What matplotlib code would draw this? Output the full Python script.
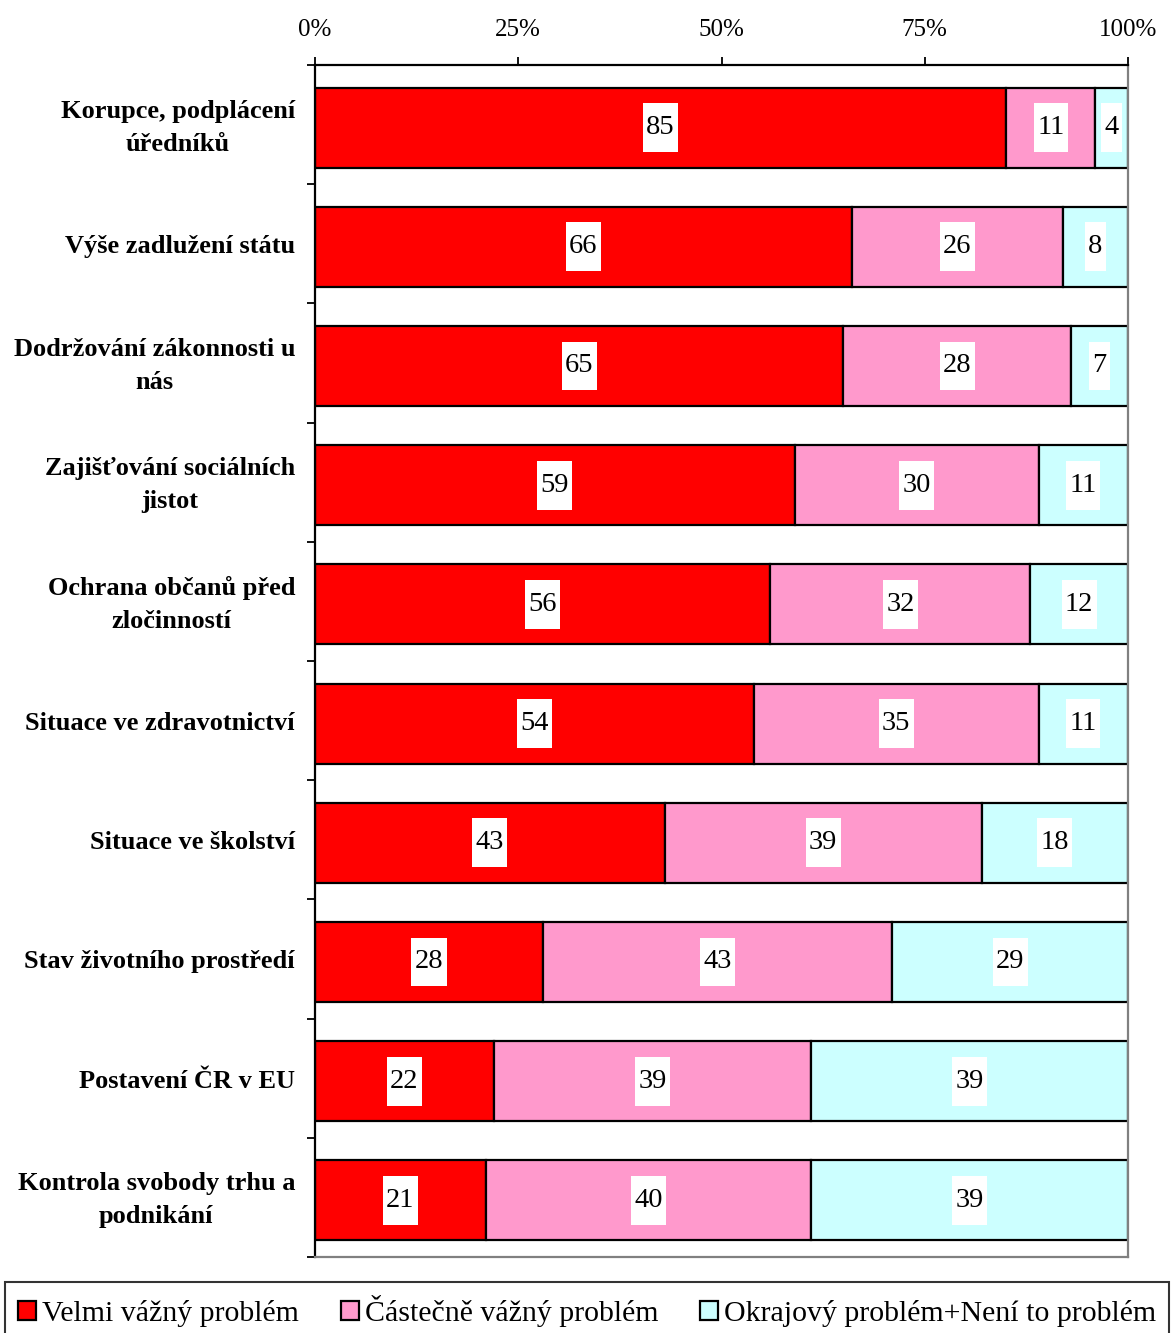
import matplotlib
matplotlib.use("Agg")
import matplotlib.pyplot as plt
from matplotlib.path import Path
import numpy as np

plt.rcParams['font.family'] = ['Liberation Serif', 'DejaVu Serif']

categories = [
    "Korupce, podplácení\núředníků",
    "Výše zadlužení státu",
    "Dodržování zákonnosti u\nnás",
    "Zajišťování sociálních\njistot",
    "Ochrana občanů před\nzločinností",
    "Situace ve zdravotnictví",
    "Situace ve školství",
    "Stav životního prostředí",
    "Postavení ČR v EU",
    "Kontrola svobody trhu a\npodnikání",
]
velmi = [85, 66, 65, 59, 56, 54, 43, 28, 22, 21]
castecne = [11, 26, 28, 30, 32, 35, 39, 43, 39, 40]
okrajovy = [4, 8, 7, 11, 12, 11, 18, 29, 39, 39]

series = [
    ("Velmi vážný problém", velmi, "#FF0000"),
    ("Částečně vážný problém", castecne, "#FF99CC"),
    ("Okrajový problém+Není to problém", okrajovy, "#CCFFFF"),
]


def tall_box(x0, y0, width, height, mutation_size):
    # white label box: narrow sides, tall top/bottom padding
    px = 0.12 * mutation_size
    py = 0.42 * mutation_size
    x0, y0 = x0 - px, y0 - py
    x1, y1 = x0 + width + 2 * px, y0 + height + 2 * py
    return Path([(x0, y0), (x1, y0), (x1, y1), (x0, y1), (x0, y0)], closed=True)


fig = plt.figure(figsize=(11.74, 13.33), dpi=100)
ax = fig.add_axes([315 / 1174, 1 - 1257 / 1333, 813 / 1174, 1192 / 1333])

y = np.arange(len(categories))
left = np.zeros(len(categories))
for name, vals, color in series:
    vals = np.array(vals, dtype=float)
    ax.barh(y + 0.025, vals, left=left, height=0.67, color=color,
            edgecolor='black', linewidth=1.6, label=name)
    for yi, l, v in zip(y, left, vals):
        ax.text(l + v / 2, yi + 0.025, f"{int(v)}", ha='center', va='center',
                fontsize=20.5,
                bbox=dict(boxstyle=tall_box, fc='white', ec='none'))
    left += vals

ax.set_xlim(0, 100)
ax.set_ylim(len(categories) - 0.5, -0.5)

ax.xaxis.tick_top()
ax.set_xticks([0, 25, 50, 75, 100])
ax.set_xticklabels(["0%", "25%", "50%", "75%", "100%"], fontsize=18)
ax.tick_params(axis='x', direction='out', length=6, width=1.3, pad=11)

ax.set_yticks(np.arange(-0.5, len(categories)))
ax.set_yticklabels([])
ax.tick_params(axis='y', direction='out', length=6, width=1.3)

# category labels, centred lines, right-aligned to the axis
for yi, cat in zip(y, categories):
    ax.annotate(cat, xy=(0, yi + 0.025), xycoords=('axes fraction', 'data'),
                xytext=(-20, 0), textcoords='offset pixels',
                ha='right', va='center', ma='center', linespacing=1.55,
                fontsize=19, fontweight='bold')

for s in ['top', 'left']:
    ax.spines[s].set_color('black')
    ax.spines[s].set_linewidth(1.6)
for s in ['right', 'bottom']:
    ax.spines[s].set_color('#808080')
    ax.spines[s].set_linewidth(1.6)

handles, labels = ax.get_legend_handles_labels()
leg = fig.legend(handles, labels, loc='upper center', ncol=3,
                 bbox_to_anchor=(0.5, 1 - 1282 / 1333),
                 fontsize=21.5, frameon=True, fancybox=False,
                 handlelength=0.6, handleheight=0.6, handletextpad=0.2,
                 columnspacing=1.4, borderaxespad=0, borderpad=0.45)
leg.get_frame().set_edgecolor('black')
leg.get_frame().set_linewidth(1.5)

fig.savefig("out.png", dpi=100)
